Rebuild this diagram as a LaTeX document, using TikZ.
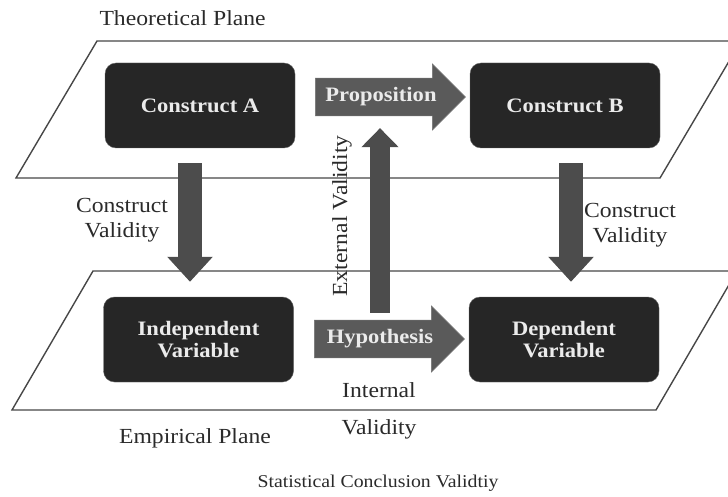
\documentclass[tikz,border=0pt]{standalone}
\usepackage{fontspec}
\setmainfont{Liberation Serif}[FakeStretch=1.1]
\usetikzlibrary{shapes.arrows,arrows.meta}
\definecolor{boxgray}{HTML}{262626}
\definecolor{arrowgray}{HTML}{5A5A5A}
\definecolor{edgegray}{HTML}{474747}
\definecolor{textgray}{HTML}{2A2A2A}
\tikzset{
varbox/.style={
  rectangle, rounded corners=11pt, fill=boxgray, draw=black!60,
  minimum width=190pt, minimum height=85pt,
  text=white!92!black, align=center,
  font=\bfseries\fontsize{20.5}{22}\selectfont
},
relarrow/.style={
  single arrow, fill=arrowgray, draw=black!55, line width=.6pt,
  minimum height=150pt, minimum width=66pt,
  single arrow head extend=14pt, inner xsep=2pt, inner ysep=9pt,
  text=white!92!black, font=\bfseries\fontsize{20.5}{22}\selectfont
},
validarrow/.style={
  draw=arrowgray!85!black, line width=24pt,
  -{Triangle[length=25pt,width=44pt]},
  shorten <=15pt, shorten >=15pt
},
plane/.style={draw=edgegray, line width=1.4pt, line join=miter},
lbl/.style={text=textgray, align=center, font=\fontsize{21.5}{25}\selectfont}
}

\begin{document}
\begin{tikzpicture}[x=1pt,y=-1pt]
\clip (0,0) rectangle (728,497);
% the planes
\foreach \lx/\ty/\h in {97/41/137,93/271/139}
{
  \draw[plane] (\lx,\ty) -- ++(644,0) -- ++(-81,\h) -- ++(-644,0) -- cycle;
}
% the boxes
\node[varbox] (conA) at (200,105.5) {Construct A};
\node[varbox] (conB) at (565,105.5) {Construct B};
\node[varbox] (indep) at (198.5,339.5) {Independent\\Variable};
\node[varbox] (dep) at (564,339.5) {Dependent\\Variable};
% the relations
\node[relarrow] (prop) at (381,97) {Proposition};
\node[relarrow] (hyp) at (380,339) {Hypothesis};
% the validity arrows
\draw[validarrow] ([xshift=-10pt]conA.south) -- ([xshift=-10pt]conA.south |- indep.north);
\draw[validarrow] ([xshift=6pt]conB.south) -- ([xshift=6pt]conB.south |- dep.north);
\draw[validarrow, line width=20pt, -{Triangle[length=19pt,width=36pt]},
  shorten <=7pt, shorten >=12pt] (hyp.north) -- (hyp.north |- prop.south);
% the labels
\node[lbl] (cvA) at (122,220) {Construct\\Validity};
\node[lbl] (cvB) at (630,225) {Construct\\Validity};
\node[lbl, rotate=90] (ext) at (342,216) {External Validity};
\node[lbl] (int) at (379,411) {Internal\\[12pt]Validity};
\node[lbl, anchor=west] (theo) at (96,18) {Theoretical Plane};
\node[lbl] (emp) at (195,438) {Empirical Plane};
\node[lbl, font=\fontsize{18}{20}\selectfont] (stat) at (378,483) {Statistical Conclusion Validtiy};
\end{tikzpicture}
\end{document}
